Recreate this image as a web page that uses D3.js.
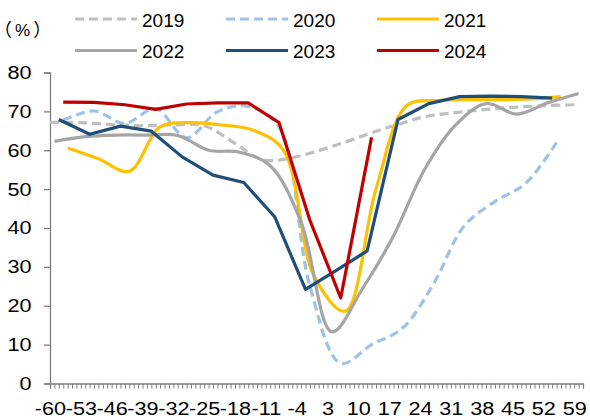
<!DOCTYPE html>
<html>
<head>
<meta charset="utf-8">
<script src="https://cdn.jsdelivr.net/npm/d3@7"></script>
<style>
  html, body { margin: 0; padding: 0; background: #fff; }
  svg { display: block; }
  text { font-family: "Liberation Sans", Arial, "Noto Sans CJK SC", sans-serif; fill: #000; }
  .unit { font-family: "Noto Sans CJK SC", "Liberation Sans", sans-serif; font-feature-settings: "halt" 1; }
</style>
</head>
<body>
<svg id="chart" width="590" height="419"></svg>
<script>
// ---------- data ----------
const categories = d3.range(-60, 62);            // day offsets on the category axis
const xTickLabels = [-60, -53, -46, -39, -32, -25, -18, -11, -4, 3, 10, 17, 24, 31, 38, 45, 52, 59];
const yTicks = [0, 10, 20, 30, 40, 50, 60, 70, 80];

const days2019 = [-60, -53, -46, -39, -32, -25, -18, -11, 18, 25, 32, 39, 46, 53, 59];
const vals2019 = [67.2, 67.1, 66.6, 66.3, 66.5, 66.3, 61.8, 57.4, 66.3, 68.6, 69.7, 70.5, 71.1, 71.5, 71.7];

const days2020 = [-57, -50, -43, -36, -29, -22, -15, -8, -1, 6, 13, 20, 27, 34, 41, 48, 55];
const vals2020 = [67.7, 70.1, 66.9, 70.7, 63.2, 69.9, 71.3, 66.0, 25.0, 5.2, 10.0, 14.2, 25.5, 40.5, 46.8, 51.5, 62.0];

const days2021 = [-56, -49, -42, -35, -28, -21, -14, -7, 0, 7, 14, 21, 28, 35, 42, 49, 56];
const vals2021 = [60.6, 57.8, 54.6, 66.0, 67.1, 66.5, 65.2, 60.0, 27.5, 18.6, 50.0, 71.5, 72.8, 73.0, 73.0, 73.2, 73.8];

const days2022 = [-59, -52, -45, -38, -31, -24, -17, -10, -3, 4, 11, 18, 25, 32, 39, 46, 53, 60];
const vals2022 = [62.3, 63.5, 63.9, 63.9, 63.8, 60.0, 59.5, 56.0, 41.5, 13.3, 24.5, 38.0, 55.0, 66.4, 72.0, 69.3, 72.2, 74.6];

const days2023 = [-58, -51, -44, -37, -30, -23, -16, -9, -2, 5, 12, 19, 26, 33, 40, 47, 54];
const vals2023 = [67.9, 64.1, 66.2, 64.9, 58.3, 53.6, 51.7, 42.9, 24.2, 29.1, 34.1, 67.9, 72.0, 73.8, 73.9, 73.8, 73.4];

const days2024 = [-57, -50, -43, -36, -29, -22, -15, -8, -1, 6, 13];
const vals2024 = [72.4, 72.3, 71.7, 70.5, 71.9, 72.2, 72.2, 67.1, 42.0, 22.0, 63.3];

const seriesNames = ["2019", "2020", "2021", "2022", "2023", "2024"];
const seriesDays = [days2019, days2020, days2021, days2022, days2023, days2024];
const seriesVals = [vals2019, vals2020, vals2021, vals2022, vals2023, vals2024];

// ---------- styles ----------
const colors = ["#BFBFBF", "#9DC3E6", "#FFC000", "#A5A5A5", "#1F4E79", "#C00000"];
const dashes = ["9,5", "9,5", null, null, null, null];
const smooth = [true, true, true, true, false, false];

// ---------- layout ----------
const svg = d3.select("#chart");
const plotLeft = 50, plotRight = 583, plotTop = 72.5, plotBottom = 383.5;

const x = d3.scalePoint().domain(categories).range([plotLeft, plotRight]);
const y = d3.scaleLinear().domain([0, 80]).range([plotBottom, plotTop]);

const axisColor = "#7F7F7F";
const labelFont = '"Liberation Sans", Arial, sans-serif';
const stretch = 1.17;

// y axis
const yAxis = d3.axisLeft(y).tickValues(yTicks).tickSize(6).tickPadding(12).tickFormat(d3.format("d"));
const gy = svg.append("g").attr("transform", `translate(${plotLeft},0)`).call(yAxis);
gy.select(".domain").attr("stroke", axisColor).attr("stroke-width", 1.3);
gy.selectAll(".tick line").attr("stroke", axisColor).attr("stroke-width", 1.3);
gy.selectAll(".tick text")
  .attr("font-size", 18.5).style("font-family", labelFont).attr("fill", "#000")
  .attr("x", 0).attr("transform", `translate(-18.5,0) scale(${stretch},1)`);

// x axis
const labelSet = new Set(xTickLabels);
const xAxis = d3.axisBottom(x).tickValues(categories).tickSize(5).tickPadding(13)
  .tickFormat(d => labelSet.has(d) ? String(d) : "");
const gx = svg.append("g").attr("transform", `translate(0,${plotBottom})`).call(xAxis);
gx.select(".domain").attr("stroke", axisColor).attr("stroke-width", 1.3);
gx.selectAll(".tick line").attr("stroke", axisColor).attr("stroke-width", 1);
gx.selectAll(".tick text")
  .attr("font-size", 18.5).style("font-family", labelFont).attr("fill", "#000")
  .attr("transform", `scale(${stretch},1)`);

// unit label
const unit = svg.append("text").attr("class", "unit").attr("x", 3).attr("y", 36).attr("font-size", 18);
unit.append("tspan").text("（");
unit.append("tspan").attr("dx", 3).style("font-family", labelFont).attr("font-size", 17).text("%");
unit.append("tspan").attr("dx", 3).text("）");

// lines
seriesNames.forEach((name, i) => {
  const pts = seriesDays[i].map((d, j) => [d, seriesVals[i][j]]);
  const line = d3.line()
    .x(p => x(p[0]))
    .y(p => y(p[1]))
    .curve(smooth[i] ? d3.curveCatmullRom.alpha(0.5) : d3.curveLinear);
  svg.append("path")
    .datum(pts)
    .attr("d", line)
    .attr("fill", "none")
    .attr("stroke", colors[i])
    .attr("stroke-width", 3.2)
    .attr("stroke-linejoin", "round")
    .attr("stroke-dasharray", dashes[i]);
});

// legend
const legendCols = [75, 226, 377];
const legendRows = [19, 50.5];
seriesNames.forEach((name, i) => {
  const cx = legendCols[i % 3], cy = legendRows[Math.floor(i / 3)];
  const g = svg.append("g");
  g.append("line").attr("x1", cx).attr("x2", cx + 62).attr("y1", cy).attr("y2", cy)
    .attr("stroke", colors[i]).attr("stroke-width", 3.2).attr("stroke-dasharray", dashes[i]);
  g.append("text").attr("x", cx + 67).attr("y", cy + 7.5).attr("font-size", 19).text(name);
});
</script>
</body>
</html>
